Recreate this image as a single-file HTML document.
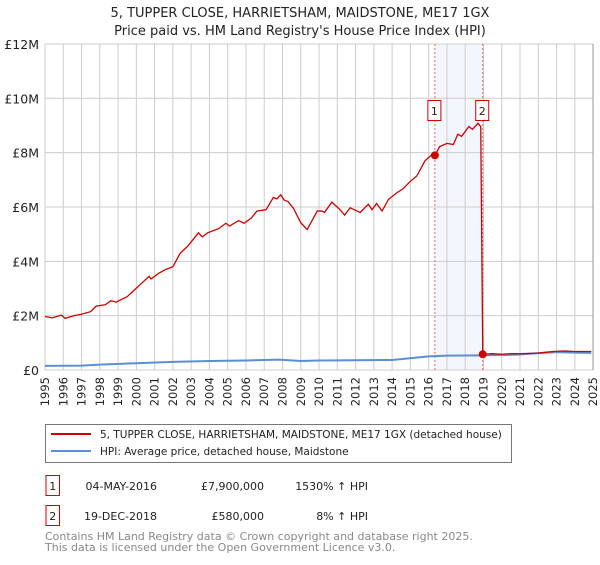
<!DOCTYPE html>
<html><head><meta charset="utf-8"><style>
body{margin:0;background:#fff;font-family:"Liberation Sans","DejaVu Sans",sans-serif;}
svg text{font-family:"DejaVu Sans","Liberation Sans",sans-serif;}
</style></head><body>
<svg id="chart" width="600" height="560" xmlns="http://www.w3.org/2000/svg">
<text x="300" y="17" text-anchor="middle" font-size="13" fill="#222">5, TUPPER CLOSE, HARRIETSHAM, MAIDSTONE, ME17 1GX</text>
<text x="300" y="35" text-anchor="middle" font-size="13" fill="#222">Price paid vs. HM Land Registry's House Price Index (HPI)</text>
<g id="grid"></g>
<g id="axes"></g>
<g id="series"></g>
<g>
<rect x="45.5" y="424.5" width="466" height="38" fill="#fff" stroke="#777"/>
<line x1="51" y1="434" x2="91" y2="434" stroke="#cc0000" stroke-width="2"/>
<text x="100" y="438" font-size="10.5" fill="#222">5, TUPPER CLOSE, HARRIETSHAM, MAIDSTONE, ME17 1GX (detached house)</text>
<line x1="51" y1="451" x2="91" y2="451" stroke="#5b8fd4" stroke-width="2"/>
<text x="100" y="455" font-size="10.5" fill="#222">HPI: Average price, detached house, Maidstone</text>
</g>
<g font-size="11" fill="#222">
<rect x="46" y="475.5" width="13.5" height="20" fill="#fff" stroke="#cc0000"/>
<text x="52.7" y="490" text-anchor="middle">1</text>
<text x="157" y="490" text-anchor="end">04-MAY-2016</text>
<text x="264" y="490" text-anchor="end">£7,900,000</text>
<text x="368" y="490" text-anchor="end">1530% ↑ HPI</text>
<rect x="46" y="505.5" width="13.5" height="20" fill="#fff" stroke="#cc0000"/>
<text x="52.7" y="520" text-anchor="middle">2</text>
<text x="157" y="520" text-anchor="end">19-DEC-2018</text>
<text x="264" y="520" text-anchor="end">£580,000</text>
<text x="368" y="520" text-anchor="end">8% ↑ HPI</text>
</g>
<text x="45" y="540" font-size="11" fill="#888">Contains HM Land Registry data © Crown copyright and database right 2025.</text>
<text x="45" y="551" font-size="11" fill="#888">This data is licensed under the Open Government Licence v3.0.</text>
</svg>
<script>
const redYears=[1995.0,1995.4,1995.9,1996.1,1996.6,1997.0,1997.5,1997.8,1998.3,1998.6,1998.9,1999.5,1999.9,2000.3,2000.7,2000.8,2001.2,2001.6,2002.0,2002.4,2002.8,2003.4,2003.6,2003.9,2004.5,2004.9,2005.1,2005.6,2005.9,2006.3,2006.6,2007.1,2007.5,2007.7,2007.9,2008.1,2008.3,2008.6,2009.0,2009.35,2009.9,2010.15,2010.3,2010.7,2011.15,2011.4,2011.7,2012.25,2012.7,2012.9,2013.15,2013.45,2013.8,2014.25,2014.6,2015.0,2015.35,2015.8,2016.1,2016.34,2016.6,2017.0,2017.35,2017.6,2017.8,2018.2,2018.4,2018.7,2018.85,2018.96,2019.5,2020.0,2020.5,2021.0,2021.5,2022.0,2022.5,2023.0,2023.5,2024.0,2024.5,2024.9];
const redValues=[1.97,1.92,2.02,1.9,2.0,2.05,2.15,2.35,2.4,2.55,2.5,2.7,2.95,3.2,3.45,3.35,3.55,3.7,3.8,4.3,4.55,5.05,4.9,5.05,5.2,5.4,5.3,5.5,5.4,5.6,5.85,5.9,6.35,6.3,6.45,6.25,6.2,5.95,5.42,5.17,5.85,5.85,5.8,6.18,5.9,5.7,5.97,5.8,6.1,5.9,6.13,5.85,6.28,6.52,6.67,6.95,7.14,7.7,7.88,7.9,8.22,8.34,8.3,8.68,8.6,8.96,8.86,9.08,8.96,0.58,0.6,0.58,0.6,0.6,0.61,0.62,0.66,0.69,0.7,0.68,0.68,0.68];
const hpiYears=[1995,1997,1998,2000,2002,2004,2006,2007.8,2009,2010,2012,2014,2016,2017,2018.96,2020,2021,2022,2023,2024,2024.9];
const hpiValues=[0.15,0.16,0.2,0.25,0.3,0.33,0.35,0.38,0.33,0.35,0.36,0.37,0.5,0.53,0.54,0.55,0.57,0.62,0.66,0.64,0.63];
const sales=[[2016.34,7.9,"1"],[2018.96,0.58,"2"]];
const yTicks=[0,2,4,6,8,10,12];
const yLabels=["£0","£2M","£4M","£6M","£8M","£10M","£12M"];
const NS="http://www.w3.org/2000/svg";
const x=y=>45+(y-1995)*18.27;
const yv=v=>370-v*27.17;
function mk(p,t,a){const e=document.createElementNS(NS,t);for(const k in a)e.setAttribute(k,a[k]);p.appendChild(e);return e;}
const grid=document.getElementById('grid'),axes=document.getElementById('axes'),ser=document.getElementById('series');
const sh=mk(grid,'rect',{x:x(sales[0][0]),y:44,width:x(sales[1][0])-x(sales[0][0]),height:326,fill:'#f3f7fd'});


for(let yr=1995;yr<=2025;yr++){
 const l=mk(grid,'line',{x1:x(yr),x2:x(yr),y1:44,y2:370,stroke:'#ccc','stroke-width':1});
 
 
 const t=mk(axes,'text',{x:0,y:0,transform:`translate(${x(yr)+4},377) rotate(-90)`,'text-anchor':'end','font-size':11.5,fill:'#222'});
 t.textContent=yr;
 
 
}
yTicks.forEach((v,i)=>{
 const l=mk(grid,'line',{x1:45,x2:593,y1:yv(v),y2:yv(v),stroke:'#ccc','stroke-width':1});
 
 
 const t=mk(axes,'text',{x:39,y:yv(v)+5,'text-anchor':'end','font-size':12.5,fill:'#222'});
 t.textContent=yLabels[i];
 
 
});
const ra=mk(axes,'line',{x1:593,x2:593,y1:44,y2:370,stroke:'#999'});


sales.forEach(s=>{
 const d=mk(ser,'line',{x1:x(s[0]),x2:x(s[0]),y1:44,y2:370,stroke:'#e06666','stroke-dasharray':'2,2','stroke-width':1});
 
 
});
const hp=mk(ser,'polyline',{points:hpiYears.map((y,i)=>x(y)+','+yv(hpiValues[i])).join(' '),fill:'none',stroke:'#5b8fd4','stroke-width':2});


const rp=mk(ser,'polyline',{points:redYears.map((y,i)=>x(y)+','+yv(redValues[i])).join(' '),fill:'none',stroke:'#cc0000','stroke-width':1.3});


sales.forEach(s=>{
 const c=mk(ser,'circle',{cx:x(s[0]),cy:yv(s[1]),r:4,fill:'#cc0000'});
 
 
 const b=mk(ser,'rect',{x:x(s[0])-7,y:100.5,width:13,height:20,fill:'#fff',stroke:'#cc0000'});
 
 
 const t=mk(ser,'text',{x:x(s[0])-0.5,y:115,'text-anchor':'middle','font-size':11,fill:'#222'});
 t.textContent=s[2];
 
 
});
</script>
</body></html>
